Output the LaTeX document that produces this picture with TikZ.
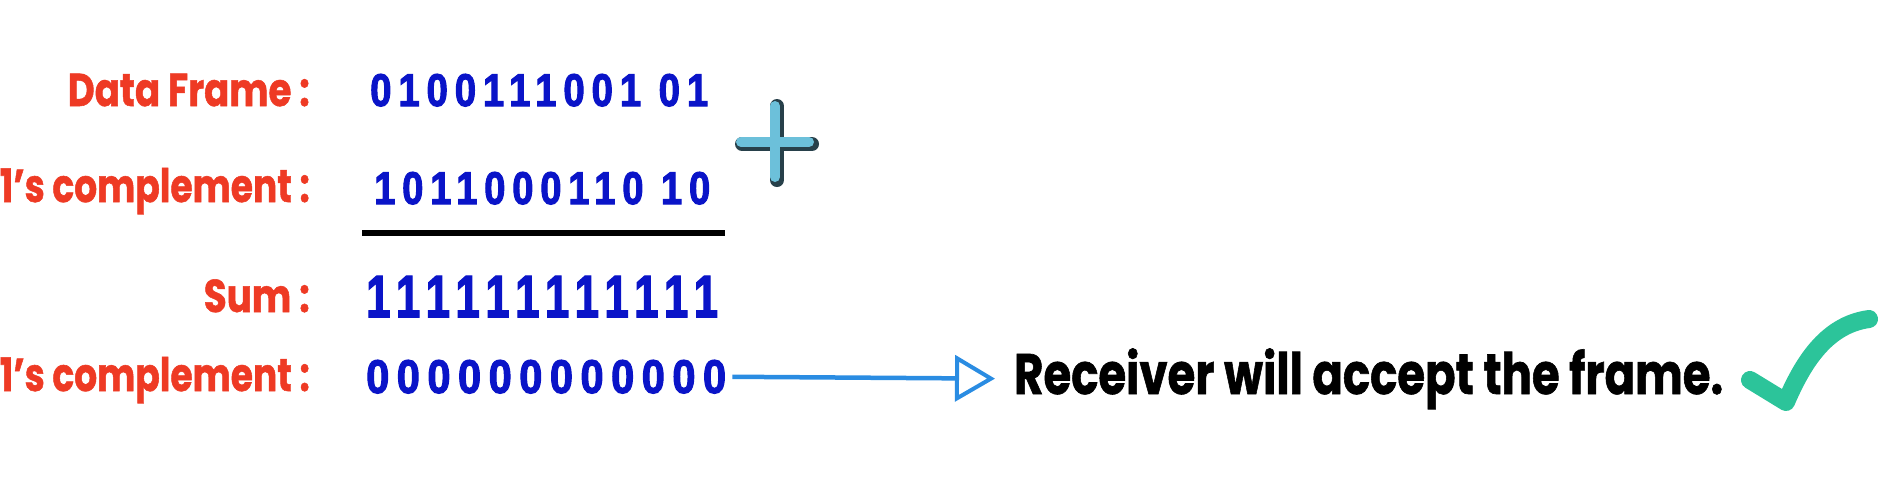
\documentclass[tikz,border=0pt]{standalone}
\usepackage{fontspec}
\setmainfont{Poppins}[BoldFont={* Bold}, BoldFeatures={FakeBold=1.2}]
\newfontfamily\digfont{Liberation Sans Bold}[LetterSpace=18, FakeBold=2.5]
\usetikzlibrary{arrows.meta}
\definecolor{lblred}{HTML}{EE3A24}
\definecolor{digblue}{HTML}{0A14C8}
\definecolor{arrblue}{HTML}{2A8CE2}
\definecolor{plusblue}{HTML}{6CC0DA}
\definecolor{plusdark}{HTML}{27404A}
\definecolor{checkgreen}{HTML}{2CC49A}
\newcommand\fitw[2]{\sbox0{#2}\pgfmathsetmacro\myr{#1/\wd0}\scalebox{\myr}[1]{\usebox0}}
\tikzset{
  lbl/.style={inner sep=0pt, anchor=base east, text=lblred, font=\fontsize{46}{50}\selectfont\bfseries},
  dig/.style={inner sep=0pt, anchor=base west, text=digblue, font=\digfont},
  msg/.style={inner sep=0pt, anchor=base west, text=black, font=\fontsize{57}{60}\selectfont\bfseries},
}
\begin{document}
\begin{tikzpicture}[x=1pt,y=-1pt]
\useasboundingbox (0,0) rectangle (1883,483);
% labels
\node[lbl] (l1) at (310,106) {\fitw{242}{Data Frame :}};
\node[lbl] (l2) at (310,202) {\fitw{310}{1’s complement :}};
\node[lbl] (l3) at (310,312) {\fitw{106}{Sum :}};
\node[lbl] (l4) at (310,391) {\fitw{310}{1’s complement :}};
% digits
\node[dig] (d1) at (370,106) {\resizebox{338pt}{32pt}{0100111001 01}};
\node[dig] (d2) at (374,204) {\resizebox{336pt}{32pt}{1011000110 10}};
\node[dig] (d3) at (366,317) {\resizebox{352pt}{41pt}{111111111111}};
\node[dig] (d4) at (366,393) {\resizebox{360pt}{33pt}{000000000000}};
% sum line
\coordinate (la) at (362,233);
\coordinate (lb) at (725,233);
\draw[line width=6pt] (la) -- (lb);
% plus sign
\coordinate (pc) at (775,142);
\begin{scope}[line cap=round]
\draw[plusdark, line width=14pt] ([shift={(-33,2)}]pc) -- ([shift={(37,2)}]pc);
\draw[plusdark, line width=14pt] ([shift={(2,-36)}]pc) -- ([shift={(2,38)}]pc);
\draw[plusblue, line width=10pt] ([shift={(-34,0)}]pc) -- ([shift={(34,0)}]pc);
\draw[plusblue, line width=10pt] ([shift={(0,-36)}]pc) -- ([shift={(0,35)}]pc);
\end{scope}
% message
\node[msg] (rec) at (1014,394) {\fitw{709}{Receiver will accept the frame.}};
% arrow
\draw[arrblue, line width=4.5pt, shorten <=6pt, shorten >=19pt,
  -{Triangle[open, length=40pt, width=46pt, line width=4pt]}] (d4.east) -- (rec.west);
% check mark
\coordinate (c1) at (1750,380);
\coordinate (c2) at (1786,402);
\coordinate (c3) at (1869,319);
\draw[checkgreen, line width=18pt, line cap=round, line join=round]
  (c1) -- (c2) .. controls (1802,365) and (1825,325) .. (c3);
\end{tikzpicture}
\end{document}
